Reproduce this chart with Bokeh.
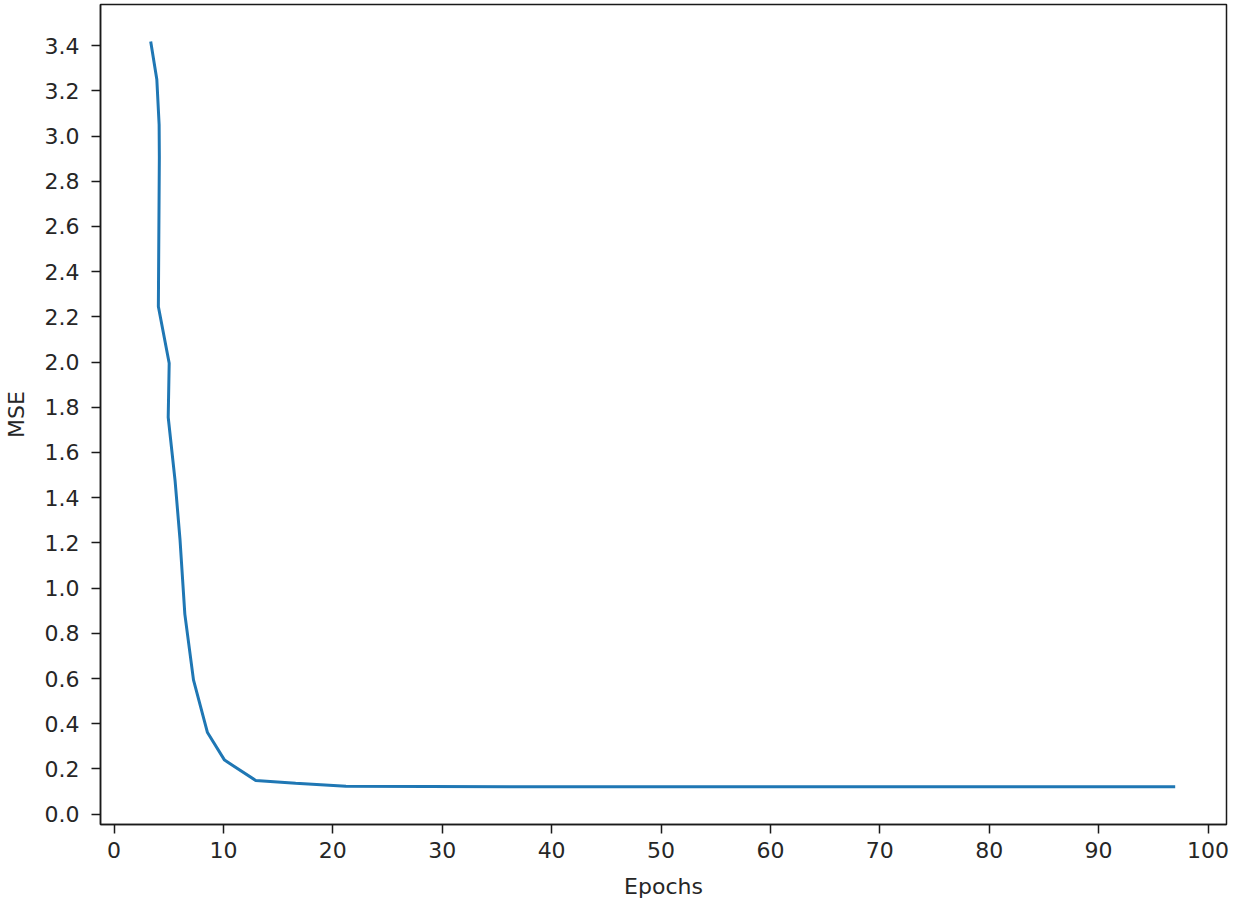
from bokeh.plotting import figure
from bokeh.models import Range1d, SingleIntervalTicker, NumeralTickFormatter
from bokeh.embed import file_html
from bokeh.resources import INLINE

# Data
epochs = [3.35, 3.91, 4.12, 4.14, 4.05, 5.04, 4.95, 5.58, 6.03, 6.47, 7.26, 8.54,
          10.1, 12.95, 16.6, 21.2, 40.0, 60.0, 80.0, 97.0]
mse = [3.418, 3.25, 3.05, 2.905, 2.246, 1.995, 1.756, 1.474, 1.214, 0.885, 0.594,
       0.361, 0.239, 0.149, 0.137, 0.123, 0.121, 0.121, 0.121, 0.121]

x_ticks_interval = 10
y_ticks_interval = 0.2

FONT = "DejaVu Sans"
TXT = "#262626"

p = figure(width=1234, height=906, output_backend="svg", toolbar_location=None,
           x_range=Range1d(-1.239, 101.69), y_range=Range1d(-0.0459, 3.582),
           min_border_left=97, min_border_right=8, min_border_top=4,
           min_border_bottom=82)

p.line(epochs, mse, line_color="#1f77b4", line_width=3)

p.xgrid.visible = False
p.ygrid.visible = False
p.outline_line_color = "#1a1a1a"
p.outline_line_width = 1.5
p.background_fill_color = "white"
p.border_fill_color = "white"

p.xaxis.ticker = SingleIntervalTicker(interval=x_ticks_interval, num_minor_ticks=0)
p.yaxis.ticker = SingleIntervalTicker(interval=y_ticks_interval, num_minor_ticks=0)
p.yaxis.formatter = NumeralTickFormatter(format="0.0")

p.xaxis.axis_label = "Epochs"
p.yaxis.axis_label = "MSE"

for ax in (p.xaxis[0], p.yaxis[0]):
    ax.axis_line_color = "#1a1a1a"
    ax.axis_line_width = 1.5
    ax.major_tick_line_color = "#1a1a1a"
    ax.major_tick_line_width = 1.5
    ax.major_tick_in = 0
    ax.major_tick_out = 9
    ax.minor_tick_line_color = None
    ax.major_label_text_font = FONT
    ax.major_label_text_font_size = "22px"
    ax.major_label_text_color = TXT
    ax.axis_label_text_font = FONT
    ax.axis_label_text_font_size = "22px"
    ax.axis_label_text_font_style = "normal"
    ax.axis_label_text_color = TXT

p.xaxis.major_label_standoff = 8
p.xaxis.axis_label_standoff = 13
p.yaxis.major_label_standoff = 12
p.yaxis.axis_label_standoff = 13

open("out.html", "w").write(file_html(p, INLINE))
